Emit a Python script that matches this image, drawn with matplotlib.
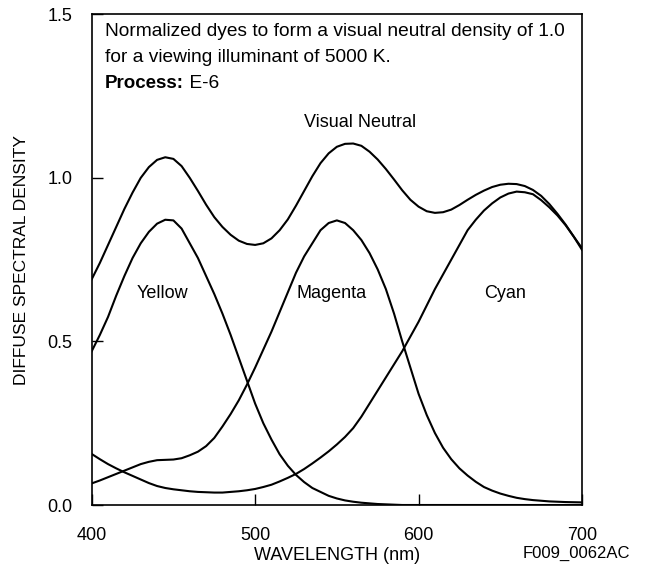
import matplotlib
matplotlib.use("Agg")
import matplotlib.pyplot as plt

wavelength = list(range(400, 701, 5))
yellow = [0.47, 0.52, 0.575, 0.64, 0.70, 0.755, 0.80, 0.835, 0.86, 0.872,
          0.87, 0.845, 0.80, 0.755, 0.70, 0.645, 0.585, 0.52, 0.45, 0.38,
          0.31, 0.25, 0.20, 0.155, 0.12, 0.092, 0.07, 0.052, 0.04, 0.028,
          0.02, 0.014, 0.01, 0.007, 0.005, 0.003, 0.002, 0.001, 0.0, 0.0,
          0.0, 0.0, 0.0, 0.0, 0.0, 0.0, 0.0, 0.0, 0.0, 0.0,
          0.0, 0.0, 0.0, 0.0, 0.0, 0.0, 0.0, 0.0, 0.0, 0.0, 0.0]
magenta = [0.066, 0.075, 0.085, 0.095, 0.105, 0.115, 0.125, 0.132, 0.137, 0.138,
           0.139, 0.143, 0.152, 0.163, 0.18, 0.205, 0.24, 0.278, 0.32, 0.368,
           0.42, 0.475, 0.53, 0.59, 0.65, 0.71, 0.76, 0.80, 0.84, 0.862,
           0.87, 0.862, 0.84, 0.81, 0.77, 0.72, 0.66, 0.585, 0.50, 0.42,
           0.34, 0.275, 0.22, 0.175, 0.14, 0.112, 0.09, 0.071, 0.055, 0.044,
           0.035, 0.028, 0.022, 0.018, 0.015, 0.013, 0.011, 0.010, 0.009, 0.0085, 0.008]
cyan = [0.156, 0.14, 0.125, 0.112, 0.10, 0.089, 0.078, 0.067, 0.058, 0.052,
        0.048, 0.045, 0.042, 0.040, 0.039, 0.038, 0.038, 0.040, 0.042, 0.045,
        0.049, 0.055, 0.062, 0.072, 0.083, 0.095, 0.11, 0.127, 0.145, 0.164,
        0.185, 0.208, 0.235, 0.27, 0.31, 0.35, 0.39, 0.43, 0.47, 0.515,
        0.56, 0.61, 0.66, 0.705, 0.75, 0.795, 0.84, 0.872, 0.90, 0.922,
        0.94, 0.952, 0.958, 0.956, 0.95, 0.932, 0.91, 0.885, 0.855, 0.82, 0.78]
neutral = [0.69, 0.74, 0.795, 0.85, 0.905, 0.955, 1.0, 1.033, 1.055, 1.063,
           1.058, 1.036, 1.0, 0.96, 0.918, 0.88, 0.85, 0.826, 0.808, 0.798,
           0.795, 0.80, 0.815, 0.84, 0.873, 0.915, 0.96, 1.005, 1.045, 1.075,
           1.095, 1.104, 1.105, 1.098, 1.08, 1.056, 1.027, 0.995, 0.962, 0.933,
           0.912, 0.898, 0.893, 0.895, 0.903, 0.917, 0.933, 0.948, 0.961, 0.972,
           0.979, 0.982, 0.981, 0.975, 0.963, 0.945, 0.92, 0.89, 0.857, 0.82, 0.785]

x_ticks = [400, 500, 600, 700]
y_ticks = [0.0, 0.5, 1.0, 1.5]

plt.rcParams['font.family'] = ['Liberation Sans', 'DejaVu Sans']

fig = plt.figure(figsize=(6.47, 5.75), dpi=100)
ax = fig.add_axes([91.7/647, 1 - 505/575, (582 - 91.7)/647, (505 - 14.3)/575])

for series in (neutral, yellow, magenta, cyan):
    ax.plot(wavelength, series, color='black', lw=1.5, solid_joinstyle='round')

ax.set_xlim(400, 700)
ax.set_ylim(0, 1.5)
ax.set_xticks(x_ticks)
ax.set_xticklabels([str(v) for v in x_ticks])
ax.set_yticks(y_ticks)
ax.set_yticklabels([f"{v:.1f}" for v in y_ticks])
ax.tick_params(direction='in', length=8, width=1, labelsize=13)
ax.tick_params(axis='x', pad=16)
ax.tick_params(axis='y', pad=14)
for s in ax.spines.values():
    s.set_linewidth(1.2)

ax.set_xlabel("WAVELENGTH (nm)", fontsize=13, labelpad=2)
ax.set_ylabel("DIFFUSE SPECTRAL DENSITY", fontsize=12.5, labelpad=13)

def fy(y):
    return 1 - y / 575

fig.text(105/647, fy(31), "Normalized dyes to form a visual neutral density of 1.0",
         fontsize=13.8, ha='left', va='center')
fig.text(105/647, fy(57), "for a viewing illuminant of 5000 K.",
         fontsize=13.8, ha='left', va='center')
t = fig.text(105/647, fy(83), "Process:", fontsize=13.5, fontweight='bold',
             ha='left', va='center')
ax.annotate(" E-6", xy=(1, 0), xycoords=t, fontsize=13.8, ha='left', va='bottom')

ax.text(564, 1.17, "Visual Neutral", fontsize=13, ha='center', va='center')
ax.text(443, 0.645, "Yellow", fontsize=13, ha='center', va='center')
ax.text(547, 0.645, "Magenta", fontsize=13, ha='center', va='center')
ax.text(653, 0.645, "Cyan", fontsize=13, ha='center', va='center')

fig.text(576/647, fy(553), "F009_0062AC", fontsize=12, ha='center', va='center')

fig.savefig("out.png", dpi=100)
